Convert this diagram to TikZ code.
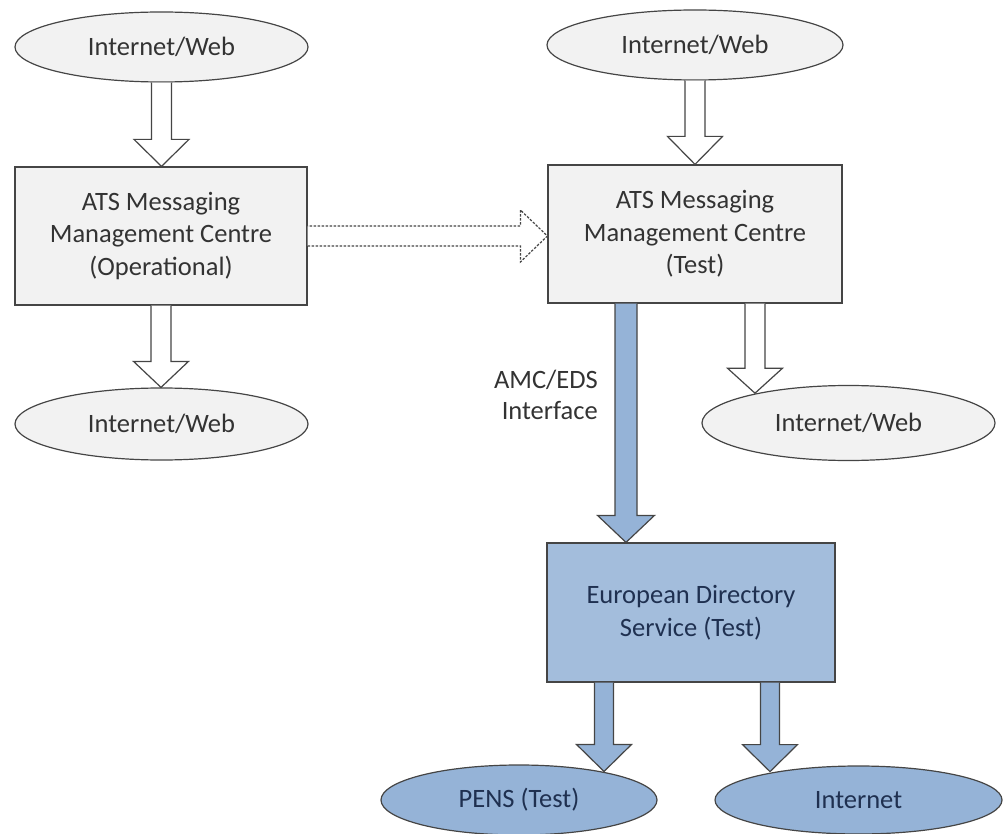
\documentclass[tikz,border=0pt]{standalone}
\usepackage{fontspec}
\setmainfont{Carlito}
\usetikzlibrary{shapes.geometric,calc}
\definecolor{edge}{HTML}{454545}
\definecolor{txtgray}{HTML}{333333}
\definecolor{grayfill}{HTML}{F2F2F2}
\definecolor{bluefill}{HTML}{95B3D7}
\definecolor{bluebox}{HTML}{A3BDDC}
\definecolor{bluetxt}{HTML}{1F3050}
\newcommand\varrow[6]{\draw[#1] let \p1=(#2), \p2=(#3) in
  (\x1-#4,\y1) -- (\x1-#4,\y2+#6) -- (\x1-#5,\y2+#6) -- (\x1,\y2)
  -- (\x1+#5,\y2+#6) -- (\x1+#4,\y2+#6) -- (\x1+#4,\y1);}
\newcommand\harrow[6]{\draw[#1] let \p1=(#2), \p2=(#3) in
  (\x1,\y1-#4) -- (\x2-#6,\y1-#4) -- (\x2-#6,\y1-#5) -- (\x2,\y1)
  -- (\x2-#6,\y1+#5) -- (\x2-#6,\y1+#4) -- (\x1,\y1+#4);}
\tikzset{
  base/.style={draw=edge, line width=1.2pt, font=\fontsize{26.5}{32.5}\selectfont, align=center, inner sep=0pt},
  grayell/.style={base, ellipse, fill=grayfill, text=txtgray},
  grayrect/.style={base, rectangle, fill=grayfill, text=txtgray},
  blueell/.style={base, ellipse, fill=bluefill, text=bluetxt},
  bluerect/.style={base, rectangle, fill=bluebox, text=bluetxt},
  whitearrow/.style={draw=edge, line width=1.2pt, fill=white, line join=miter},
  bluearrow/.style={draw=edge, line width=1.2pt, fill=bluefill, line join=miter},
  dottedarrow/.style={draw=edge, line width=1.2pt, dash pattern=on 2.5pt off 1.5pt, fill=white, line join=miter},
  lbl/.style={font=\fontsize{26.5}{31}\selectfont, text=txtgray, align=right, inner sep=0pt}
}
\begin{document}
\begin{tikzpicture}[x=1pt,y=-1pt]
\useasboundingbox (0,0) rectangle (1004,834);
% nodes
\node[grayell, minimum width=293, minimum height=70] (web1) at (161.5,47) {Internet/Web};
\node[grayrect, minimum width=292, minimum height=138] (amcop) at (161,236) {ATS Messaging\\Management Centre\\(Operational)};
\node[grayell, minimum width=293, minimum height=72] (web2) at (161.5,424) {Internet/Web};
\node[grayell, minimum width=296, minimum height=70] (web3) at (695,45) {Internet/Web};
\node[grayrect, minimum width=294, minimum height=138] (amctest) at (695,234) {ATS Messaging\\Management Centre\\(Test)};
\node[grayell, minimum width=293, minimum height=75] (web4) at (848.5,423) {Internet/Web};
\node[bluerect, minimum width=288, minimum height=139] (eds) at (691,612.5) {European Directory\\Service (Test)};
\node[blueell, minimum width=276, minimum height=70] (pens) at (519,800) {PENS (Test)};
\node[blueell, minimum width=287, minimum height=68] (inet) at (858.5,800) {Internet};
\node[lbl, anchor=east] (iflbl) at (598,395) {AMC/EDS\\Interface};
% connectors
\coordinate (s1) at ($(amctest.south)+(60,0)$);
\coordinate (s2) at ($(amctest.south)+(-69,0)$);
\coordinate (s3) at ($(eds.south)+(-87,0)$);
\coordinate (s4) at ($(eds.south)+(79,0)$);
\varrow{whitearrow}{web1.south}{amcop.north}{10pt}{27.5pt}{27pt}
\varrow{whitearrow}{amcop.south}{web2.north}{10pt}{27.5pt}{26pt}
\varrow{whitearrow}{web3.south}{amctest.north}{10pt}{27.5pt}{28pt}
\varrow{whitearrow}{s1}{web4.162.5}{10pt}{27.5pt}{25pt}
\varrow{bluearrow}{s2}{s2 |- eds.north}{11pt}{28.5pt}{27pt}
\varrow{bluearrow}{s3}{pens.19.5}{9.5pt}{27.5pt}{27pt}
\varrow{bluearrow}{s4}{inet.161}{9.5pt}{27.5pt}{27pt}
\harrow{dottedarrow}{amcop.east}{amctest.west}{10pt}{26pt}{27pt}
\end{tikzpicture}
\end{document}
